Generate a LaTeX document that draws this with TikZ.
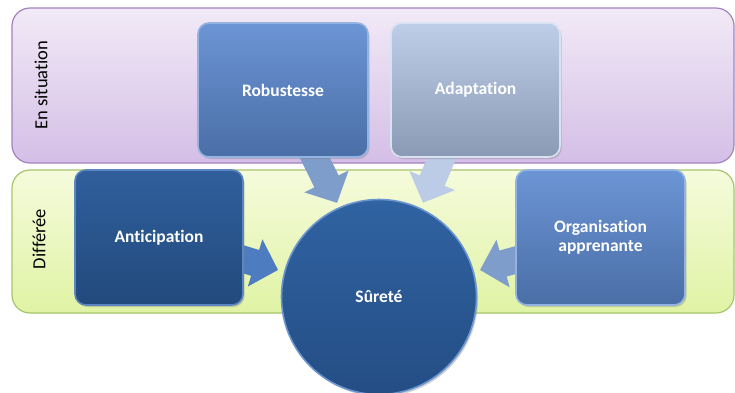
\documentclass[tikz,border=0pt]{standalone}
\usepackage{fontspec}
\setmainfont[Ligatures={NoCommon}]{Carlito}
\usetikzlibrary{arrows.meta,calc,shadows}
\pgfdeclarelayer{bg}
\pgfsetlayers{bg,main}
\definecolor{bandTopA}{HTML}{F2EAF7}
\definecolor{bandTopB}{HTML}{D4BEE6}
\definecolor{bandTopD}{HTML}{A283BE}
\definecolor{bandBotA}{HTML}{F5FBDC}
\definecolor{bandBotB}{HTML}{E0F3A4}
\definecolor{bandBotD}{HTML}{A6C56B}
\definecolor{midA}{HTML}{6C95D5}
\definecolor{midB}{HTML}{4A6EA6}
\definecolor{midD}{HTML}{93B3E3}
\definecolor{greyA}{HTML}{BECDE8}
\definecolor{greyB}{HTML}{8A9AB5}
\definecolor{greyD}{HTML}{D8E2F2}
\definecolor{darkA}{HTML}{305F9C}
\definecolor{darkB}{HTML}{224A7D}
\definecolor{darkD}{HTML}{5C86C2}
\definecolor{surA}{HTML}{3063A2}
\definecolor{surB}{HTML}{244D84}
\definecolor{surD}{HTML}{6A95D0}
\definecolor{arrMid}{HTML}{7F9DCB}
\definecolor{arrLight}{HTML}{BDCCE6}
\definecolor{arrDark}{HTML}{4E7CC0}
\tikzset{
  band/.style={rounded corners=18pt, line width=1.2pt, inner sep=0pt},
  box/.style={rounded corners=11pt, line width=1.6pt, inner sep=2pt, align=center,
    text=white, font=\fontsize{17.5}{19}\selectfont\bfseries,
    drop shadow={opacity=0.35, shadow xshift=1.5pt, shadow yshift=-2pt}},
  bandlabel/.style={rotate=90, font=\fontsize{18.5}{22}\selectfont, text=black},
  blockarrow/.style={line width=27pt, -{Triangle[length=24pt,width=48pt]}}
}
\begin{document}
\begin{tikzpicture}[x=1pt,y=1pt]
\useasboundingbox (0,0) rectangle (735,-392);
% main nodes
\node[box, minimum width=170pt, minimum height=134pt, top color=midA, bottom color=midB, draw=midD] (rob) at (283,-90) {Robustesse};
\node[box, minimum width=169pt, minimum height=134pt, top color=greyA, bottom color=greyB, draw=greyD] (ada) at (475.5,-90) {Adaptation};
\node[box, minimum width=168pt, minimum height=135pt, top color=darkA, bottom color=darkB, draw=darkD] (ant) at (159,-237.5) {Anticipation};
\node[box, minimum width=169pt, minimum height=135pt, top color=midA, bottom color=midB, draw=midD] (org) at (600.5,-237.5) {Organisation\\apprenante};
\node[circle, minimum size=195pt, inner sep=0pt, top color=surA, bottom color=surB, draw=surD, line width=1.6pt,
  text=white, font=\fontsize{17.5}{19}\selectfont\bfseries,
  drop shadow={opacity=0.35, shadow xshift=1.5pt, shadow yshift=-2pt}] (sur) at (379,-297) {Sûreté};
\begin{pgfonlayer}{bg}
  \node[band, minimum width=722pt, minimum height=155pt, top color=bandTopA, bottom color=bandTopB, draw=bandTopD] (situ) at (373,-85.5) {};
  \node[band, minimum width=722pt, minimum height=143pt, top color=bandBotA, bottom color=bandBotB, draw=bandBotD] (diff) at (373,-241.5) {};
  \node[bandlabel] (situL) at (41,-85) {En situation};
  \node[bandlabel] (diffL) at (39,-239) {Différée};
  % arrow anchors
  \coordinate (robS) at (311,-150);
  \coordinate (robT) at ($(sur.center)+(114:103)$);
  \coordinate (adaS) at (445,-150);
  \coordinate (adaT) at ($(sur.center)+(65:104)$);
  \coordinate (antS) at (236,-257);
  \coordinate (antT) at ($(sur.center)+(165:104.5)$);
  \coordinate (orgS) at (523,-258);
  \coordinate (orgT) at ($(sur.center)+(15:104.5)$);
  \draw[blockarrow, draw=arrMid, fill=arrMid] (robS) -- (robT);
  \draw[blockarrow, draw=arrLight, fill=arrLight] (adaS) -- (adaT);
  \draw[blockarrow, draw=arrDark, fill=arrDark] (antS) -- (antT);
  \draw[blockarrow, draw=arrMid, fill=arrMid] (orgS) -- (orgT);
\end{pgfonlayer}
\end{tikzpicture}
\end{document}
